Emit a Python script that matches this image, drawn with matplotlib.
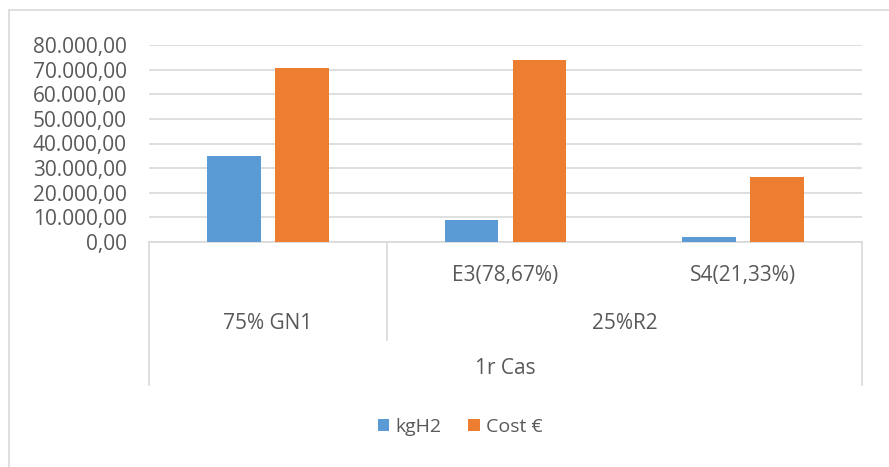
import numpy as np
import matplotlib.pyplot as plt
from matplotlib.patches import Rectangle
from matplotlib.lines import Line2D

# data
categories = ['75% GN1', 'E3(78,67%)', 'S4(21,33%)']
kgh2 = [35000, 8800, 2200]
cost = [70700, 74000, 26300]
y_ticks = [0, 10000, 20000, 30000, 40000, 50000, 60000, 70000, 80000]

text_col = '#595959'
grid_col = '#D9D9D9'

plt.rcParams['font.family'] = ['Open Sans', 'DejaVu Sans']

fig = plt.figure(figsize=(8.89, 4.67), dpi=100)
ax = fig.add_axes([149 / 889, 1 - 242 / 467, (862 - 149) / 889, (242 - 45) / 467])

x = np.arange(len(categories))
w = 0.227
off = 0.143
ax.bar(x - off, kgh2, w, color='#5B9BD5', label='kgH2', zorder=3)
ax.bar(x + off, cost, w, color='#ED7D31', label='Cost €', zorder=3)

ax.set_xlim(-0.5, len(categories) - 0.5)
ax.set_ylim(0, 80000)
ax.set_yticks(y_ticks)
ax.set_yticklabels([f'{v:,.2f}'.replace(',', 'X').replace('.', ',').replace('X', '.') for v in y_ticks])
ax.tick_params(axis='y', length=0, labelsize=15, labelcolor=text_col, pad=16)
ax.set_xticks([])
ax.grid(axis='y', color=grid_col, linewidth=1.2, zorder=0)
for s in ['top', 'right', 'left']:
    ax.spines[s].set_visible(False)
ax.spines['bottom'].set_color(grid_col)
ax.spines['bottom'].set_linewidth(1.2)

# multi-level category axis
tr = ax.get_xaxis_transform()
fs = 15
for xi, lab in zip(x[1:], categories[1:]):
    ax.text(xi, -0.17, lab, transform=tr, ha='center', va='center', fontsize=fs, color=text_col)
ax.text(0, -0.415, categories[0], transform=tr, ha='center', va='center', fontsize=fs, color=text_col)
ax.text(1.5, -0.415, '25%R2', transform=tr, ha='center', va='center', fontsize=fs, color=text_col)
ax.text(1, -0.64, '1r Cas', transform=tr, ha='center', va='center', fontsize=fs, color=text_col)
for xv, yb in [(-0.5, -0.726), (0.5, -0.497), (2.5, -0.726)]:
    ax.add_line(Line2D([xv, xv], [0, yb], transform=tr, color=grid_col, lw=1.2, clip_on=False))

# chart frame
fig.patches.append(Rectangle((9 / 889, -0.1), 1.1, 1 - 10 / 467 + 0.1, transform=fig.transFigure,
                             fill=False, edgecolor=grid_col, lw=1.2))

fig.legend(loc='center', bbox_to_anchor=(460 / 889, 1 - 427 / 467), ncol=2, frameon=False,
           fontsize=14, labelcolor=text_col, handlelength=0.6, handleheight=0.6,
           handletextpad=0.3, columnspacing=1.4)

fig.savefig('out.png', dpi=100)
